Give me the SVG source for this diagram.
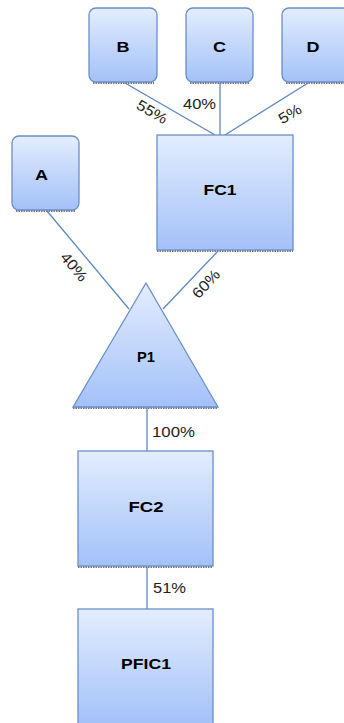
<svg xmlns="http://www.w3.org/2000/svg" width="344" height="723" viewBox="0 0 344 723">
<defs>
<linearGradient id="g" x1="0" y1="0" x2="0" y2="1">
<stop offset="0" stop-color="#e3edfe"/>
<stop offset="1" stop-color="#a3c1f8"/>
</linearGradient>
<style>
.n{fill:url(#g);stroke:#6a8fc8;stroke-width:1.3}
.sh{stroke:#777;stroke-width:2;stroke-dasharray:1.5 1}
.t{font-family:"Liberation Sans",Arial,sans-serif;font-size:14.5px;font-weight:bold;fill:#000;text-anchor:middle}
.l{font-family:"Liberation Sans",Arial,sans-serif;font-size:15px;fill:#222}
.c{stroke:#5b87c2;stroke-width:1.3;fill:none}
</style>
</defs>
<rect width="344" height="723" fill="#fff"/>
<g id="connectors">
<line class="c" x1="125" y1="83" x2="215" y2="135"/>
<line class="c" x1="220" y1="83" x2="220" y2="135"/>
<line class="c" x1="308" y1="83" x2="225" y2="135"/>
<line class="c" x1="47" y1="211" x2="129" y2="309"/>
<line class="c" x1="218" y1="251" x2="163" y2="309"/>
<line class="c" x1="147" y1="408" x2="147" y2="451"/>
<line class="c" x1="147" y1="567" x2="147" y2="609"/>
<text class="l" transform="translate(152 112) rotate(30)" text-anchor="middle" dy="5" textLength="33" lengthAdjust="spacingAndGlyphs">55%</text>
<text class="l" x="183" y="109" textLength="33" lengthAdjust="spacingAndGlyphs">40%</text>
<text class="l" transform="translate(290 114) rotate(-31)" text-anchor="middle" dy="5" textLength="24" lengthAdjust="spacingAndGlyphs">5%</text>
<text class="l" transform="translate(74 267) rotate(50)" text-anchor="middle" dy="5" textLength="33" lengthAdjust="spacingAndGlyphs">40%</text>
<text class="l" transform="translate(206 284) rotate(-47)" text-anchor="middle" dy="5" textLength="33" lengthAdjust="spacingAndGlyphs">60%</text>
<text class="l" x="152" y="437" textLength="43" lengthAdjust="spacingAndGlyphs">100%</text>
<text class="l" x="153" y="593" textLength="33" lengthAdjust="spacingAndGlyphs">51%</text>
</g>
<g id="B">
<line class="sh" x1="93" y1="83" x2="154" y2="83"/>
<rect class="n" x="89" y="8" width="68" height="74" rx="7"/>
<text class="t" x="123" y="52" textLength="13" lengthAdjust="spacingAndGlyphs">B</text>
</g>
<g id="C">
<line class="sh" x1="190" y1="83" x2="250" y2="83"/>
<rect class="n" x="186" y="8" width="67" height="74" rx="7"/>
<text class="t" x="219.5" y="52" textLength="13" lengthAdjust="spacingAndGlyphs">C</text>
</g>
<g id="D">
<line class="sh" x1="286" y1="83" x2="344" y2="83"/>
<rect class="n" x="282" y="8" width="68" height="74" rx="7"/>
<text class="t" x="313" y="52" textLength="13" lengthAdjust="spacingAndGlyphs">D</text>
</g>
<g id="A">
<line class="sh" x1="16" y1="211" x2="76" y2="211"/>
<rect class="n" x="12" y="136" width="67" height="74" rx="7"/>
<text class="t" x="41.5" y="180" textLength="13" lengthAdjust="spacingAndGlyphs">A</text>
</g>
<g id="FC1">
<line class="sh" x1="157" y1="251" x2="293" y2="251"/>
<rect class="n" x="157" y="135" width="136" height="115"/>
<text class="t" x="220" y="195" textLength="33" lengthAdjust="spacingAndGlyphs">FC1</text>
</g>
<g id="P1">
<line class="sh" x1="73" y1="408" x2="218" y2="408"/>
<polygon class="n" points="146,283 218,407 73,407"/>
<text class="t" x="146" y="362" textLength="18" lengthAdjust="spacingAndGlyphs">P1</text>
</g>
<g id="FC2">
<line class="sh" x1="78" y1="567" x2="213" y2="567"/>
<rect class="n" x="78" y="451" width="135" height="115"/>
<text class="t" x="146" y="512" textLength="35" lengthAdjust="spacingAndGlyphs">FC2</text>
</g>
<g id="PFIC1">
<rect class="n" x="78" y="609" width="135" height="116"/>
<text class="t" x="146" y="669" textLength="50" lengthAdjust="spacingAndGlyphs">PFIC1</text>
</g>
</svg>
